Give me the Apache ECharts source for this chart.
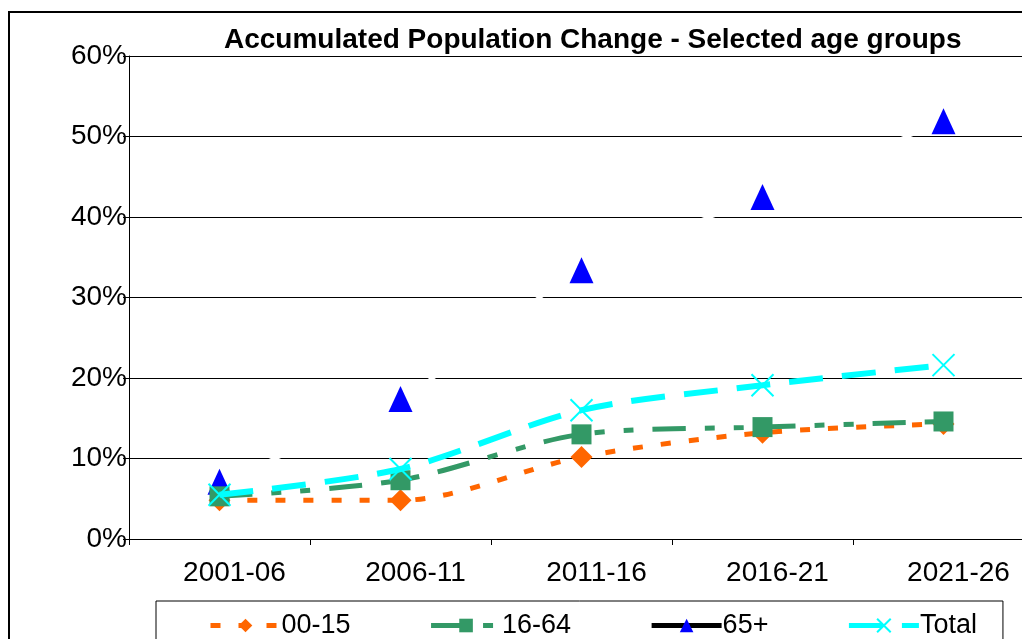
<!DOCTYPE html>
<html>
<head>
<meta charset="utf-8">
<script src="https://cdn.jsdelivr.net/npm/echarts@6/dist/echarts.min.js"></script>
<style>
  html, body { margin: 0; padding: 0; background: #fff; }
  #chart { width: 1022px; height: 639px; }
</style>
</head>
<body>
<div id="chart"></div>
<script>
var myChart = echarts.init(document.getElementById('chart'));

var periods = ['2001-06', '2006-11', '2011-16', '2016-21', '2021-26'];
var age0015 = [4.8, 4.8, 10.2, 13.2, 14.3];
var age1664 = [5.3, 7.3, 13.0, 13.9, 14.6];
var age65 = [7.1, 17.4, 33.4, 42.5, 51.9];
var total = [5.5, 8.7, 16.0, 19.1, 21.6];

var font = 'Liberation Sans, Arial, sans-serif';

option = {
    backgroundColor: '#fff',
    animation: false,
    title: {
        text: 'Accumulated Population Change - Selected age groups',
        left: 219,
        top: 21,
        textStyle: {
            fontFamily: font,
            fontSize: 28,
            fontWeight: 'bold',
            color: '#000'
        }
    },
    graphic: [{
        type: 'rect',
        shape: { x: 9, y: 12, width: 1100, height: 700 },
        style: { fill: 'none', stroke: '#000', lineWidth: 2 },
        z: -10
    }],
    legend: {
        left: 156,
        top: 601,
        padding: [11, 26, 12, 52],
        itemGap: 78,
        itemWidth: 70,
        itemHeight: 17,
        borderColor: '#000',
        borderWidth: 1,
        textStyle: { fontFamily: font, fontSize: 27, color: '#000', padding: [0, 0, 0, -4] },
        data: [
            { name: '00-15', lineStyle: { width: 5 } },
            { name: '16-64', lineStyle: { width: 5 } },
            { name: '65+', lineStyle: { color: '#000', width: 5, type: 'solid' }, textStyle: { padding: [0, 9, 0, -4] } },
            { name: 'Total', lineStyle: { width: 5 } }
        ]
    },
    grid: {
        left: 129,
        top: 56,
        width: 905,
        height: 483,
        containLabel: false,
        outerBoundsMode: 'none'
    },
    xAxis: {
        type: 'category',
        data: periods,
        boundaryGap: true,
        axisLine: { lineStyle: { color: '#000', width: 1 } },
        axisTick: { show: true, length: 6, lineStyle: { color: '#000' } },
        axisLabel: { fontFamily: font, fontSize: 28, color: '#000', margin: 20, padding: [0, 0, 0, 30] }
    },
    yAxis: {
        type: 'value',
        min: 0,
        max: 60,
        interval: 10,
        axisLine: { show: true, lineStyle: { color: '#000', width: 1 } },
        axisTick: { show: true, length: 6, lineStyle: { color: '#000' } },
        axisLabel: { fontFamily: font, fontSize: 28, color: '#000', margin: 2, formatter: '{value}%' },
        splitLine: { lineStyle: { color: '#000', width: 1 } }
    },
    series: [{
        name: '00-15',
        type: 'line',
        data: age0015,
        smooth: 0.3,
        symbol: 'diamond',
        symbolSize: [22, 22],
        itemStyle: { color: '#FF6600' },
        lineStyle: { color: '#FF6600', width: 5, type: [10, 18] },
        z: 3
    }, {
        name: '16-64',
        type: 'line',
        data: age1664,
        smooth: 0.3,
        symbol: 'rect',
        symbolSize: 20,
        itemStyle: { color: '#339966' },
        lineStyle: { color: '#339966', width: 5, type: [33, 19, 10, 19, 10, 19] },
        z: 4
    }, {
        name: '65+',
        type: 'line',
        data: age65,
        smooth: 0.3,
        symbol: 'triangle',
        symbolSize: [24, 26],
        itemStyle: { color: '#0000FF' },
        lineStyle: { color: '#fff', width: 4 },
        z: 2
    }, {
        name: 'Total',
        type: 'line',
        data: total,
        smooth: 0.3,
        symbol: 'path://M0,0L10,10M10,0L0,10',
        symbolSize: 22,
        symbolKeepAspect: true,
        itemStyle: { color: '#00FFFF', borderColor: '#00FFFF', borderWidth: 2 },
        lineStyle: { color: '#00FFFF', width: 6, type: [34, 19] },
        z: 5
    }]
};

myChart.setOption(option);
</script>
</body>
</html>
